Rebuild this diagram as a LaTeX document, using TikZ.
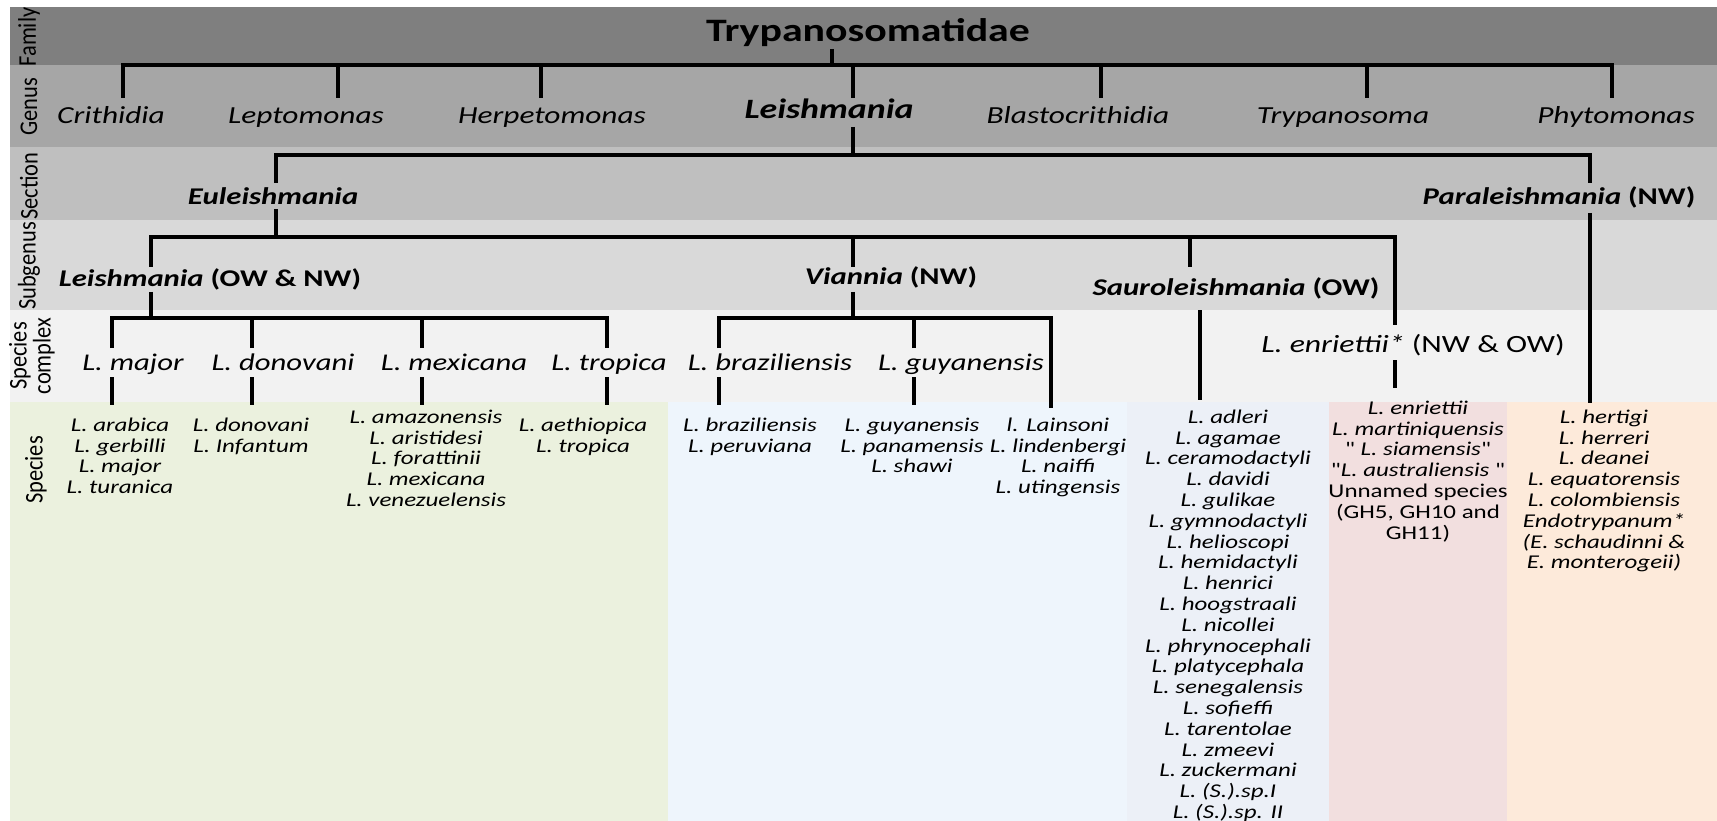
\documentclass[tikz,border=0pt]{standalone}
\usepackage{fontspec}
\setmainfont{Carlito}[FakeStretch=1.28]
\newfontfamily\rowfont{Carlito}[FakeStretch=0.88]
\newfontfamily\qfont{Carlito}[FakeStretch=1.28, Ligatures=TeXOff]
\definecolor{famc}{HTML}{7F7F7F}
\definecolor{genc}{HTML}{A6A6A6}
\definecolor{secc}{HTML}{BFBFBF}
\definecolor{subc}{HTML}{D9D9D9}
\definecolor{cpxc}{HTML}{F2F2F2}
\definecolor{grnc}{HTML}{EBF1DE}
\definecolor{bluc}{HTML}{EEF5FC}
\definecolor{gblc}{HTML}{ECF0F7}
\definecolor{pnkc}{HTML}{F2DFDF}
\definecolor{pchc}{HTML}{FDEADA}
\newcommand\lstrut{\rule{0pt}{16pt}}
\newcommand\dq{{\qfont\upshape"}}
\begin{document}
\begin{tikzpicture}[x=1pt,y=-1pt,
  br/.style={line width=3.5pt},
  lbl/.style={inner sep=0pt, anchor=base},
  gen/.style={lbl, font=\fontsize{24.5}{26}\selectfont\itshape},
  head/.style={lbl, font=\fontsize{24}{26}\selectfont\bfseries},
  cpx/.style={lbl, font=\fontsize{24}{26}\selectfont\itshape},
  lst/.style={inner sep=0pt, anchor=north, align=center, font=\fontsize{19.5}{20.8}\selectfont\itshape},
  rowlab/.style={rotate=90, inner sep=0pt, align=center, font=\rowfont\fontsize{25.5}{24}\selectfont},
]
\useasboundingbox (0,0) rectangle (1717,821);
\fill[white] (0,0) rectangle (1717,821);

% rank bands
\fill[famc] (10,7) rectangle (1717,65);
\fill[genc] (10,65) rectangle (1717,147);
\fill[secc] (10,147) rectangle (1717,220);
\fill[subc] (10,220) rectangle (1717,310);
\fill[cpxc] (10,310) rectangle (1717,402);
% species columns
\fill[grnc] (10,402) rectangle (668,821);
\fill[bluc] (668,402) rectangle (1127,821);
\fill[gblc] (1127,402) rectangle (1329,821);
\fill[pnkc] (1329,402) rectangle (1507,821);
\fill[pchc] (1507,402) rectangle (1717,821);

% rank names
\node[rowlab] (rFam) at (29,37) {Family};
\node[rowlab] (rGen) at (29,107) {Genus};
\node[rowlab] (rSec) at (29,186) {Section};
\node[rowlab] (rSub) at (29,266) {Subgenus};
\node[rowlab] (rCpx) at (32,356) {Species\\complex};
\node[rowlab] (rSpp) at (36,470) {Species};

% family
\node[lbl, font=\fontsize{32.7}{34}\selectfont\bfseries] (fam) at (868,42) {Trypanosomatidae};

% genera
\node[gen] (Cri) at (111,124) {Crithidia};
\node[gen] (Lep) at (306,124) {Leptomonas};
\node[gen] (Her) at (552,124) {Herpetomonas};
\node[lbl, font=\fontsize{28}{30}\selectfont\bfseries\itshape] (Lei) at (829,119) {Leishmania};
\node[gen] (Bla) at (1078,124) {Blastocrithidia};
\node[gen] (Try) at (1343,124) {Trypanosoma};
\node[gen] (Phy) at (1616,124) {Phytomonas};

% sections
\node[head] (Eul) at (273,205) {\textit{Euleishmania}};
\node[head] (Par) at (1559,205) {\textit{Paraleishmania} (NW)};

% subgenera
\node[head] (sLei) at (210,287) {\textit{Leishmania} (OW \& NW)};
\node[head] (sVia) at (891,285) {\textit{Viannia} (NW)};
\node[head] (sSau) at (1236,295) {\textit{Sauroleishmania} (OW)};

% species complexes
\node[cpx] (cMaj) at (133,370) {L. major};
\node[cpx] (cDon) at (283,370) {L. donovani};
\node[cpx] (cMex) at (454,370) {L. mexicana};
\node[cpx] (cTro) at (609,370) {L. tropica};
\node[cpx] (cBra) at (770,370) {L. braziliensis};
\node[cpx] (cGuy) at (961,370) {L. guyanensis};
\node[lbl, font=\fontsize{24.8}{26}\selectfont] (cEnr) at (1413,352) {\textit{L. enriettii*} (NW \& OW)};

% species lists
\node[lst] (pMaj) at (120,415) {\lstrut L. arabica\\L. gerbilli\\L. major\\L. turanica};
\node[lst] (pDon) at (251,415) {\lstrut L. donovani\\L. Infantum};
\node[lst] (pMex) at (426,407) {\lstrut L. amazonensis\\L. aristidesi\\L. forattinii\\L. mexicana\\L. venezuelensis};
\node[lst] (pTro) at (583,415) {\lstrut L. aethiopica\\L. tropica};
\node[lst] (pBra) at (750,415) {\lstrut L. braziliensis\\L. peruviana};
\node[lst] (pGuy) at (912,415) {\lstrut L. guyanensis\\L. panamensis\\L. shawi};
\node[lst] (pVia) at (1058,415) {\lstrut l. Lainsoni\\L. lindenbergi\\L. naiffi\\L. utingensis};
\node[lst] (pSau) at (1228,407) {\lstrut L. adleri\\L. agamae\\L. ceramodactyli\\L. davidi\\L. gulikae\\L. gymnodactyli\\L. helioscopi\\L. hemidactyli\\L. henrici\\L. hoogstraali\\L. nicollei\\L. phrynocephali\\L. platycephala\\L. senegalensis\\L. sofieffi\\L. tarentolae\\L. zmeevi\\L. zuckermani\\L. (S.).sp.I\\L. (S.).sp. II};
\node[lst] (pEnr) at (1418,398) {\lstrut L. enriettii\\L. martiniquensis\\\dq\ L. siamensis\dq\\\dq L. australiensis\ \dq\\\upshape Unnamed species\\\upshape (GH5, GH10 and\\\upshape GH11)};
\node[lst] (pPar) at (1604,407) {\lstrut L. hertigi\\L. herreri\\L. deanei\\L. equatorensis\\L. colombiensis\\Endotrypanum*\\(E. schaudinni \&\\E. monterogeii)};

% ---- connectors ----
% family to genera
\coordinate (gb) at (0,65);
\coordinate (famS) at (832,49);
\foreach \n/\x in {Cri/123,Lep/338,Her/541,Lei/853,Bla/1101,Try/1367,Phy/1612}
  \coordinate (t\n) at (\x,98);
\draw[br] (famS) -- (famS |- gb);
\draw[br] (tCri) -- (tCri |- gb) -- (tPhy |- gb) -- (tPhy);
\foreach \n in {Lep,Her,Lei,Bla,Try}
  \draw[br] (t\n) -- (t\n |- gb);

% genus Leishmania to sections
\coordinate (sb) at (0,155);
\coordinate (leiS) at (853,127);
\coordinate (tEul) at (276,183);
\coordinate (tPar) at (1590,183);
\draw[br] (leiS) -- (leiS |- sb);
\draw[br] (tEul) -- (tEul |- sb) -- (tPar |- sb) -- (tPar);

% Euleishmania to subgenera
\coordinate (ub) at (0,237);
\coordinate (eulS) at (276,209);
\coordinate (tsLei) at (151,267);
\coordinate (tsVia) at (853,267);
\coordinate (tsSau) at (1190,267);
\coordinate (tEnr) at (1395,325);
\draw[br] (eulS) -- (eulS |- ub);
\draw[br] (tsLei) -- (tsLei |- ub) -- (tEnr |- ub) -- (tEnr);
\draw[br] (tsVia) -- (tsVia |- ub);
\draw[br] (tsSau) -- (tsSau |- ub);

% Paraleishmania straight down to its species
\coordinate (parS) at (1590,213);
\coordinate (parE) at (1590,403);
\draw[br] (parS) -- (parE);

% subgenus Leishmania to its complexes
\coordinate (cb) at (0,318);
\coordinate (slS) at (151,292);
\foreach \n/\x in {Maj/112,Don/252,Mex/422,Tro/607,Bra/719,Guy/914}
  { \coordinate (c\n T) at (\x,348); \coordinate (c\n U) at (\x,377); \coordinate (c\n D) at (\x,405); }
\draw[br] (slS) -- (slS |- cb);
\draw[br] (cMajT) -- (cMajT |- cb) -- (cTroT |- cb) -- (cTroT);
\draw[br] (cDonT) -- (cDonT |- cb);
\draw[br] (cMexT) -- (cMexT |- cb);

% Viannia to its complexes
\coordinate (svS) at (853,292);
\coordinate (vEnd) at (1051,408);
\draw[br] (svS) -- (svS |- cb);
\draw[br] (cBraT) -- (cBraT |- cb) -- (vEnd |- cb) -- (vEnd);
\draw[br] (cGuyT) -- (cGuyT |- cb);

% complexes to species lists
\foreach \n in {Maj,Don,Mex,Tro,Bra,Guy}
  \draw[br] (c\n U) -- (c\n D);

% Sauroleishmania and L. enriettii
\coordinate (sauS) at (1200,310);
\coordinate (sauE) at (1200,400);
\draw[br] (sauS) -- (sauE);
\coordinate (enrS) at (1395,360);
\coordinate (enrE) at (1395,388);
\draw[br] (enrS) -- (enrE);
\end{tikzpicture}
\end{document}
